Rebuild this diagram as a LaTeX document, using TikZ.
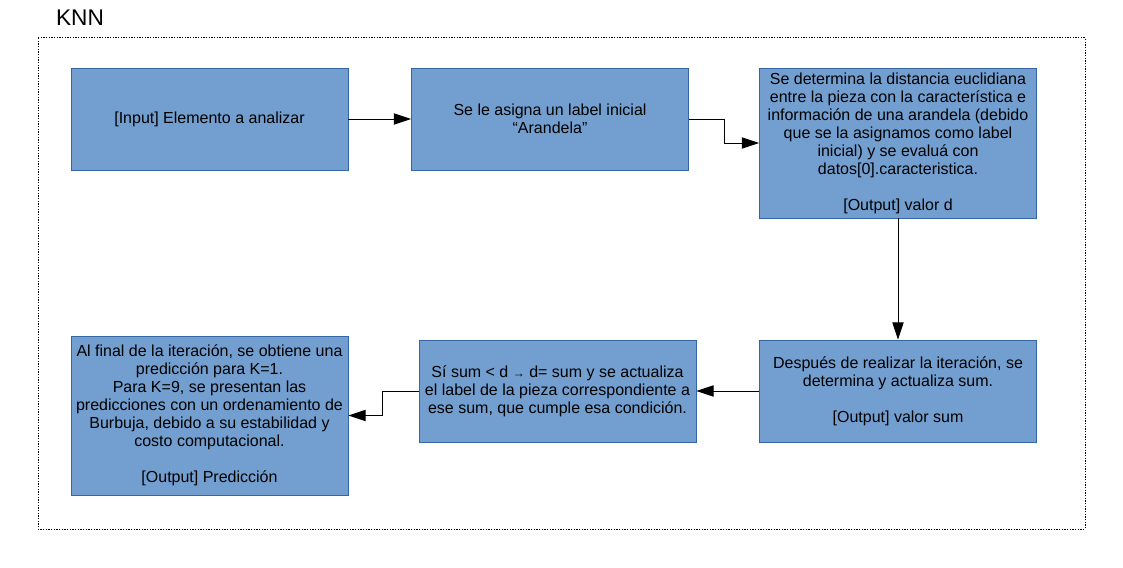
\documentclass[tikz,border=0pt]{standalone}
\usepackage{fontspec}
\setmainfont{Liberation Sans}
\usetikzlibrary{arrows.meta,positioning,shapes,calc}

\definecolor{boxfill}{HTML}{729FCF}
\definecolor{boxline}{HTML}{3465A4}

\begin{document}
\begin{tikzpicture}[
    x=0.75pt, y=-0.75pt,
    % Define styles
    stepbox/.style={rectangle, draw=boxline, line width=0.6pt, fill=boxfill, align=center,
        minimum width=207.75pt, minimum height=76.5pt, inner sep=1pt,
        font=\fontsize{12pt}{13.5pt}\selectfont},
    frame/.style={draw, line width=0.75pt, dash pattern=on 1pt off 1pt},
    title/.style={font=\fontsize{17pt}{20pt}\selectfont},
    arrow/.style={-{Triangle[length=13pt, width=8.5pt]}, line width=0.75pt}
]
\useasboundingbox (0,0) rectangle (1123,567);

% Title and frame
\node[title] (titulo) at (80,18) {KNN};
\draw[frame] (38,38) rectangle (1085,529);

% Top row
\node[stepbox] (input) at (209.5,119) {[Input] Elemento a analizar};
\node[stepbox] (asigna) at (550,119) {Se le asigna un label inicial\\“Arandela”};
\node[stepbox, minimum height=112.5pt] (distancia) at (898,143) {Se determina la distancia euclidiana\\entre la pieza con la característica e\\información de una arandela (debido\\que se la asignamos como label\\inicial) y se evaluá con\\datos[0].caracteristica.\\[13.5pt]{[Output]} valor d};

% Bottom row
\node[stepbox] (iteracion) at (898,391) {Después de realizar la iteración, se\\determina y actualiza sum.\\[13.5pt]{[Output]} valor sum};
\node[stepbox] (condicion) at (557.5,391) {Sí sum < d {\small →} d= sum y se actualiza\\el label de la pieza correspondiente a\\ese sum, que cumple esa condición.};
\node[stepbox, minimum height=119.25pt] (prediccion) at (209.5,415.5) {Al final de la iteración, se obtiene una\\predicción para K=1.\\Para K=9, se presentan las\\predicciones con un ordenamiento de\\Burbuja, debido a su estabilidad y\\costo computacional.\\[13.5pt]{[Output]} Predicción};

% Connections
\draw[arrow] (input) -- (asigna);
\draw[arrow] (asigna.east) -- ++(36,0) |- (distancia.west);
\draw[arrow] (distancia) -- (iteracion);
\draw[arrow] (iteracion) -- (condicion);
\draw[arrow] (condicion.west) -- ++(-36,0) |- (prediccion.east);

\end{tikzpicture}
\end{document}
